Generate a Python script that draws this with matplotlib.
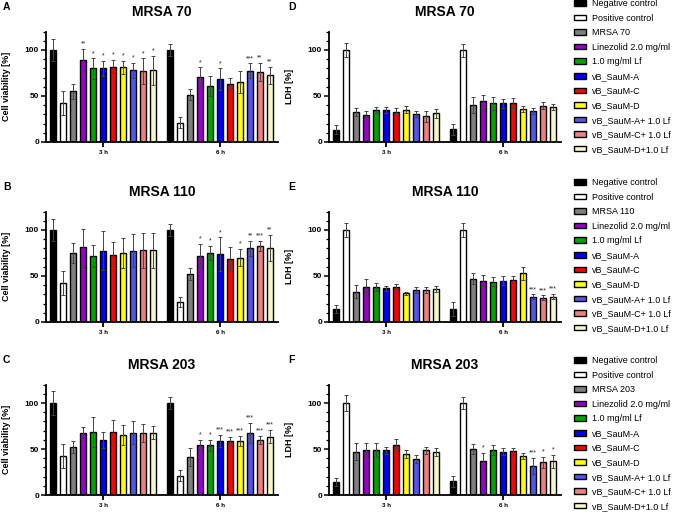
import numpy as np
import matplotlib
matplotlib.use('Agg')
import matplotlib.pyplot as plt
from matplotlib.ticker import MultipleLocator
from matplotlib.patches import Patch

plt.rcParams['font.family'] = ['Liberation Sans', 'DejaVu Sans']

treatments = ['Negative control', 'Positive control', 'MRSA', 'Linezolid 2.0 mg/ml', '1.0 mg/ml Lf',
              'vB_SauM-A', 'vB_SauM-C', 'vB_SauM-D', 'vB_SauM-A+ 1.0 Lf', 'vB_SauM-C+ 1.0 Lf',
              'vB_SauM-D+1.0 Lf']
bar_colors = ['#000000', '#ffffff', '#7f7f7f', '#9a00cc', '#00a300', '#0000ff', '#ff0000',
              '#ffff00', '#5555ee', '#f08080', '#f7f7c4']
strains = ['MRSA 70', 'MRSA 110', 'MRSA 203']
times = ['3 h', '6 h']

# cell viability [%] (mean, upper error, significance)
via70_3h = [100, 42, 55, 89, 80, 80, 82, 81, 78, 77, 78]
via70_3h_err = [12, 13, 8, 12, 11, 8, 7, 7, 8, 14, 16]
via70_3h_sig = ['', '', '', '**', '*', '*', '*', '*', '*', '*', '*']
via70_6h = [100, 21, 51.5, 71, 60.5, 68, 63, 65, 77.5, 76, 72.5]
via70_6h_err = [6, 6, 6, 10, 11, 12, 7, 12, 8, 10, 9]
via70_6h_sig = ['', '', '', '*', '', '*', '', '', '***', '**', '**']

via110_3h = [100, 42, 75, 81, 72, 77.5, 72.5, 75, 77.5, 78, 78]
via110_3h_err = [12, 13, 11, 20, 12, 21, 15, 16, 18, 19, 19]
via110_3h_sig = [''] * 11
via110_6h = [100, 21.5, 52, 72, 75, 73.5, 68.5, 70, 80, 83, 80.5]
via110_6h_err = [7, 5.5, 6.5, 13, 8, 18.5, 13.5, 9.5, 8, 5.5, 14]
via110_6h_sig = ['', '', '', '*', '*', '*', '', '*', '**', '***', '**']

via203_3h = [100, 42, 52, 67.5, 68.5, 59.5, 68, 65.5, 67.5, 67.5, 67.5]
via203_3h_err = [13, 13, 6.5, 6.5, 16.5, 8.5, 13.5, 11, 12.5, 9.5, 7]
via203_3h_sig = [''] * 11
via203_6h = [100, 21, 41, 54, 54, 59, 59, 59, 67.5, 60, 63.5]
via203_6h_err = [6.5, 6, 10, 6, 6, 6.5, 4.5, 5.5, 10.5, 4.5, 7.5]
via203_6h_sig = ['', '', '', '*', '*', '***', '***', '***', '***', '***', '***']

# LDH [%]
ldh70_3h = [13.5, 100, 32.5, 29.5, 34.5, 34.5, 33, 35, 30.5, 28, 31]
ldh70_3h_err = [4.5, 8, 4.5, 4, 3.5, 3.5, 4, 4, 3.5, 6, 5]
ldh70_3h_sig = [''] * 11
ldh70_6h = [14, 99.5, 40, 44.5, 42, 42, 42.5, 36, 34, 39.5, 38]
ldh70_6h_err = [6, 7, 9, 7, 7, 4.5, 5, 3.5, 3.5, 4, 3.5]
ldh70_6h_sig = [''] * 11

ldh110_3h = [14, 100, 33, 38, 38, 36.5, 38, 31, 35, 35, 36]
ldh110_3h_err = [4, 8, 7, 8.5, 4, 2.5, 3, 2, 3, 3, 3]
ldh110_3h_sig = [''] * 11
ldh110_6h = [14.5, 100, 47, 45, 44, 45, 46, 53, 27.5, 26.5, 27.5]
ldh110_6h_err = [7.5, 7.5, 6, 6, 5, 5, 4, 7, 2.5, 2.5, 3]
ldh110_6h_sig = ['', '', '', '', '', '', '', '', '***', '***', '***']

ldh203_3h = [14, 100, 47, 49, 49, 48.5, 54, 44.5, 39, 48.5, 47]
ldh203_3h_err = [4, 9, 9, 7, 8, 4, 6.5, 4, 4, 4, 4.5]
ldh203_3h_sig = [''] * 11
ldh203_6h = [15, 100, 50, 37, 48.5, 47, 47.5, 42.5, 31.5, 35.5, 36.5]
ldh203_6h_err = [6, 7, 5, 9, 5.5, 4, 3.5, 3.5, 9, 6, 7.5]
ldh203_6h_sig = ['', '', '', '*', '', '', '', '', '***', '*', '*']

W, H = 676, 513
fig = plt.figure(figsize=(W / 100, H / 100), dpi=100)

x3 = np.arange(11)
x6 = np.arange(11) + 11.7


def draw_panel(ax, vals3, err3, sig3, vals6, err6, sig6, ylabel, title):
    for xs, vals, err, sig in [(x3, vals3, err3, sig3), (x6, vals6, err6, sig6)]:
        ax.bar(xs, vals, width=0.6, color=bar_colors, edgecolor='black', linewidth=1.0, zorder=2)
        ax.errorbar(xs, vals, yerr=err, fmt='none', ecolor='#444444', elinewidth=0.7,
                    capsize=1.3, capthick=0.7, zorder=3)
        for xi, v, e, s in zip(xs, vals, err, sig):
            if s:
                ax.text(xi, v + e + 1.5, s, ha='center', va='bottom', fontsize=5,
                        color='#222222')
    ax.set_xlim(-0.75, 22.5)
    ax.set_ylim(0, 120)
    ax.set_xticks([x3.mean(), x6.mean()])
    ax.set_xticklabels(times, fontsize=4.5, fontweight='bold')
    ax.set_yticks([0, 50, 100])
    ax.set_yticklabels(['0', '50', '100'], fontsize=6, fontweight='bold')
    ax.yaxis.set_minor_locator(MultipleLocator(10))
    ax.tick_params(axis='y', which='major', length=3.5, width=1.1, pad=1.5)
    ax.tick_params(axis='y', which='minor', length=2, width=0.9)
    ax.tick_params(axis='x', which='major', length=3.5, width=1.3, pad=2)
    for s in ['top', 'right']:
        ax.spines[s].set_visible(False)
    for s in ['left', 'bottom']:
        ax.spines[s].set_linewidth(1.3)
    ax.set_ylabel(ylabel, fontsize=6.5, fontweight='bold')
    ax.yaxis.set_label_coords(-0.15, 0.5)
    ax.set_title(title, fontsize=10, fontweight='bold', pad=11)


left_px = [46, 329]
bottom_px = [142, 322, 495]
ax_w = 232
ax_h = 110.4

panels = [
    (via70_3h, via70_3h_err, via70_3h_sig, via70_6h, via70_6h_err, via70_6h_sig),
    (via110_3h, via110_3h_err, via110_3h_sig, via110_6h, via110_6h_err, via110_6h_sig),
    (via203_3h, via203_3h_err, via203_3h_sig, via203_6h, via203_6h_err, via203_6h_sig),
]
panels_ldh = [
    (ldh70_3h, ldh70_3h_err, ldh70_3h_sig, ldh70_6h, ldh70_6h_err, ldh70_6h_sig),
    (ldh110_3h, ldh110_3h_err, ldh110_3h_sig, ldh110_6h, ldh110_6h_err, ldh110_6h_sig),
    (ldh203_3h, ldh203_3h_err, ldh203_3h_sig, ldh203_6h, ldh203_6h_err, ldh203_6h_sig),
]
letters_left = ['A', 'B', 'C']
letters_right = ['D', 'E', 'F']
legend_top_px = [-1, 178, 356]

for i in range(3):
    b = 1 - bottom_px[i] / H
    axl = fig.add_axes([left_px[0] / W, b, ax_w / W, ax_h / H])
    draw_panel(axl, *panels[i], 'Cell viability [%]', strains[i])
    axr = fig.add_axes([left_px[1] / W, b, ax_w / W, ax_h / H])
    draw_panel(axr, *panels_ldh[i], 'LDH [%]', strains[i])

    top_px = bottom_px[i] - ax_h
    fig.text(3 / W, 1 - (top_px - 25) / H, letters_left[i], fontsize=7.5, fontweight='bold',
             ha='left', va='center')
    fig.text(288 / W, 1 - (top_px - 25) / H, letters_right[i], fontsize=7.5, fontweight='bold',
             ha='left', va='center')

    labels = list(treatments)
    labels[2] = strains[i]
    handles = [Patch(facecolor=c, edgecolor='black', linewidth=1.0) for c in bar_colors]
    fig.legend(handles, labels, loc='upper left',
               bbox_to_anchor=(574 / W, 1 - legend_top_px[i] / H),
               frameon=False, fontsize=6.5, handlelength=1.3, handleheight=0.55,
               handletextpad=0.65, labelspacing=0.62, borderpad=0, borderaxespad=0)

fig.savefig('out.png', dpi=100)
